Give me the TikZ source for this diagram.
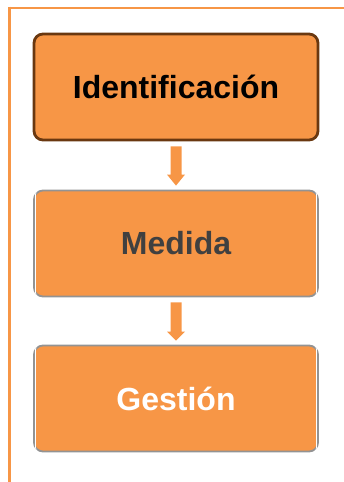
\documentclass[tikz,border=0pt]{standalone}
\usepackage{fontspec}
\setmainfont{Liberation Sans}
\definecolor{orng}{HTML}{F79646}
\definecolor{brwn}{HTML}{6A3810}
\definecolor{txtgray}{HTML}{404040}
\begin{document}
\begin{tikzpicture}[x=1pt,y=-1pt,
  box/.style={minimum width=284pt,minimum height=106pt,rounded corners=9pt,fill=orng,inner sep=0pt,
    font=\fontsize{32}{36}\selectfont\bfseries},
  darkbox/.style={box,draw=brwn,line width=2.8pt},
  lightbox/.style={box,draw=gray!85,line width=1.8pt},
  flowarrow/.style={fill=orng,draw=none}]
\useasboundingbox (0,0) rectangle (344,482);
% frame
\draw[orng,line width=2.6pt] (8,8) -- (344,8);
\draw[orng,line width=3pt] (9,6.7) -- (9,482);
% boxes
\node[darkbox,text=black] (ident) at (176,87) {Identificación};
\node[lightbox,text=txtgray] (medida) at (176,243.5) {Medida};
\node[lightbox,text=white] (gestion) at (176,398.5) {Gestión};
% inner white bevel for light boxes
\draw[white,line width=0.8pt,rounded corners=7.5pt]
  ([shift={(2.4pt,-2.4pt)}]medida.south west) rectangle ([shift={(-2.4pt,2.4pt)}]medida.north east);
\draw[white,line width=0.8pt,rounded corners=7.5pt]
  ([shift={(2.4pt,-2.4pt)}]gestion.south west) rectangle ([shift={(-2.4pt,2.4pt)}]gestion.north east);
% arrows
\coordinate (a1) at ([yshift=-5pt]ident.south);
\coordinate (b1) at ([yshift=4pt]medida.north);
\fill[flowarrow] ([xshift=-5.5pt]a1) -- ([xshift=5.5pt]a1) -- ([xshift=5.5pt,yshift=11pt]b1) -- ([xshift=9pt,yshift=11pt]b1)
  -- (b1) -- ([xshift=-9pt,yshift=11pt]b1) -- ([xshift=-5.5pt,yshift=11pt]b1) -- cycle;
\coordinate (a2) at ([yshift=-5pt]medida.south);
\coordinate (b2) at ([yshift=4pt]gestion.north);
\fill[flowarrow] ([xshift=-5.5pt]a2) -- ([xshift=5.5pt]a2) -- ([xshift=5.5pt,yshift=9pt]b2) -- ([xshift=9pt,yshift=9pt]b2)
  -- (b2) -- ([xshift=-9pt,yshift=9pt]b2) -- ([xshift=-5.5pt,yshift=9pt]b2) -- cycle;
\end{tikzpicture}
\end{document}
